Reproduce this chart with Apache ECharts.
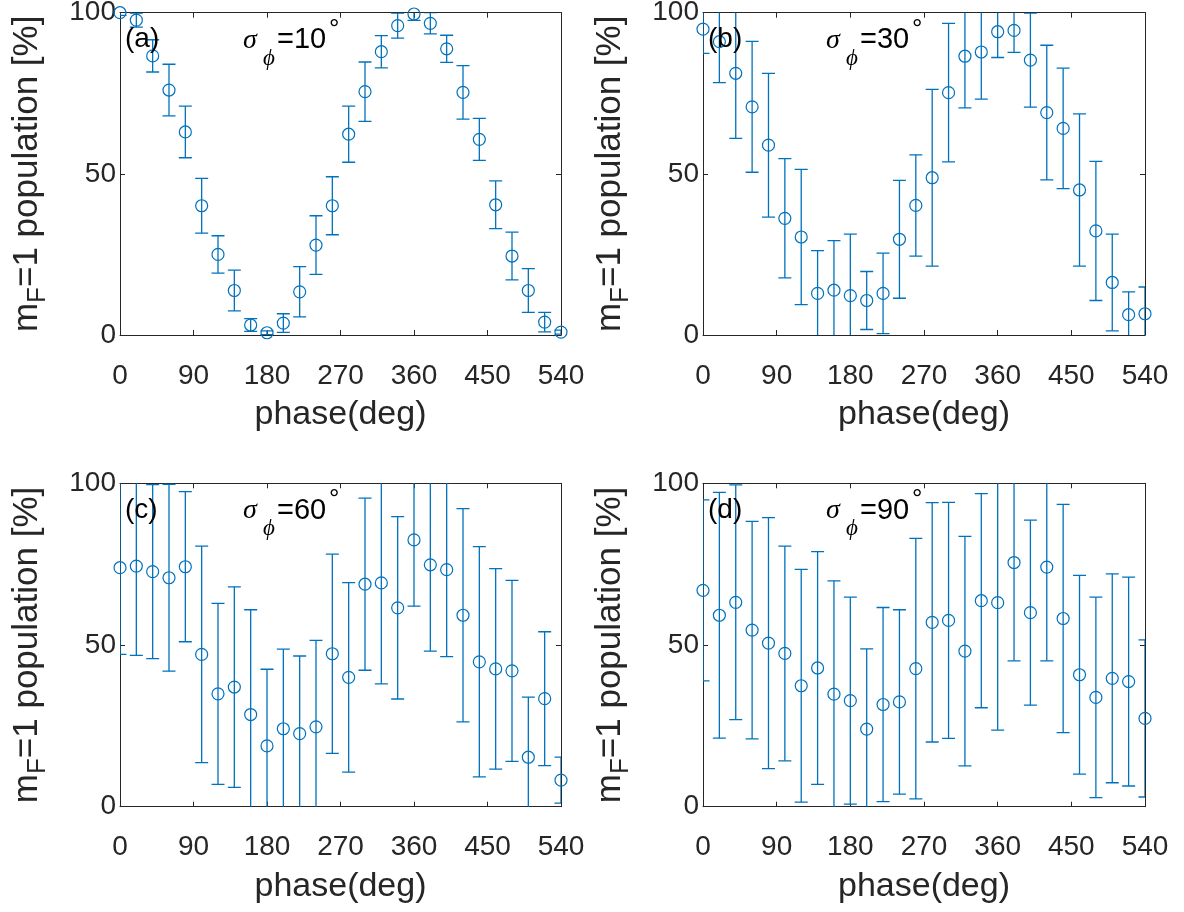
<!DOCTYPE html>
<html>
<head>
<meta charset="utf-8">
<script src="https://cdn.jsdelivr.net/npm/echarts@6/dist/echarts.min.js"></script>
<style>
html,body{margin:0;padding:0;background:#fff;}
#chart{width:1184px;height:912px;}
</style>
</head>
<body>
<div id="chart"></div>
<script>
// ---------------- data ----------------
const phases = [0,20,40,60,80,100,120,140,160,180,200,220,240,260,280,300,320,340,360,380,400,420,440,460,480,500,520,540];

const popA = [100,97.7,86.6,76,63,40.1,25,13.8,3.1,0.7,3.7,13.4,27.9,40.1,62.3,75.5,87.9,96,99.6,96.7,88.8,75.3,60.7,40.4,24.5,13.8,4,0.9];
const errA = [0.8,2.2,5,8,8,8.5,5.8,6.3,2,0.6,2.9,7.8,9.1,9,8.7,9.2,5,3.9,2,3.3,4.2,8.3,6.5,7.4,7.4,6.8,3,0.6];

const popB = [94.9,91,81.2,70.8,58.9,36.2,30.4,12.9,13.9,12.2,10.7,12.9,29.7,40.2,48.8,75.2,86.5,87.8,94.1,94.5,85.3,69,64.1,45,32.3,16.3,6.3,6.6];
const errB = [7.5,12.7,20.2,20.3,22.3,18.5,21,13.3,15.4,19.1,9,12.5,18.3,15.7,27.4,21.5,16,14.6,8,6.8,14.6,20.9,18.7,23.6,21.6,15,7.1,8.3];

const popC = [73.9,74.4,72.7,70.8,74.2,47.1,34.9,37,28.5,18.8,24.1,22.6,24.7,47.3,40,68.8,69.2,61.5,82.5,74.8,73.3,59.2,44.8,42.6,42,15.3,33.4,8.2];
const errC = [26.8,27.6,26.9,28.9,23.2,33.5,28,31,32.4,23.7,24.6,24,26.7,30.8,29.3,26.6,31.2,28.2,20.5,26.7,26.9,33,35.6,31,28,18.6,20.7,7.1];

const popD = [66.9,59.2,63.2,54.6,50.6,47.4,37.4,42.9,34.8,32.8,24,31.6,32.4,42.7,57,57.6,48.1,63.7,63.1,75.5,60,74.1,58.2,40.8,33.8,39.7,38.7,27.3];
const errD = [28,38,36.3,33.6,38.8,33.2,36,36,35,32,24.8,30,28.5,40.3,37,36.5,35.5,33.1,39.4,30.4,28.6,29,35.3,30.7,31,32.3,32.3,24.3];

const panelLetters = ['(a)','(b)','(c)','(d)'];
const sigmaValues = ['10','30','60','90'];
const xTickStep = 90;
const yTickStep = 50;
const xName = 'phase(deg)';
const yNameMain = 'm';
const yNameSub = 'F';
const yNameRest = '=1 population [%]';

// ---------------- layout / style ----------------
const pops = [popA, popB, popC, popD];
const errs = [errA, errB, errC, errD];
const BLUE = '#0072BD';
const AX = '#262626';
const FONT = '"Liberation Sans", Arial, Helvetica, sans-serif';
const SERIF = '"Liberation Serif", "Times New Roman", serif';

const gridPos = [
  {left:120, top:12.7, width:441, height:322.3},
  {left:703, top:12.7, width:442, height:322.3},
  {left:120, top:483.3, width:441, height:323.4},
  {left:703, top:483.3, width:442, height:323.4}
];

const grids = [], xAxes = [], yAxes = [], series = [], graphics = [];

function axisCommon() {
  return {
    axisLine:{show:true, onZero:false, lineStyle:{color:AX, width:1}},
    axisTick:{show:true, inside:true, length:5, lineStyle:{color:AX, width:1}},
    splitLine:{show:false},
    splitArea:{show:false}
  };
}

function renderErr(params, api) {
  const x = api.value(0), y = api.value(1), e = api.value(2);
  const t = api.coord([x, y + e]);
  const b = api.coord([x, y - e]);
  const hw = 6.5;
  const st = {stroke:BLUE, lineWidth:1.3, fill:null};
  return {
    type:'group',
    children:[
      {type:'line', shape:{x1:t[0], y1:t[1], x2:b[0], y2:b[1]}, style:st},
      {type:'line', shape:{x1:t[0]-hw, y1:t[1], x2:t[0]+hw, y2:t[1]}, style:st},
      {type:'line', shape:{x1:b[0]-hw, y1:b[1], x2:b[0]+hw, y2:b[1]}, style:st}
    ]
  };
}

gridPos.forEach((g, i) => {
  grids.push({left:g.left, top:g.top, width:g.width, height:g.height, containLabel:false, outerBoundsMode:'none', show:false});

  xAxes.push(Object.assign(axisCommon(), {
    gridIndex:i, type:'value', position:'bottom', min:0, max:540, interval:xTickStep,
    axisLabel:{show:true, margin:27, fontSize:28, color:AX, fontFamily:FONT, showMinLabel:true, showMaxLabel:true, hideOverlap:false},
    name:xName, nameLocation:'middle', nameGap:63,
    nameTextStyle:{fontSize:34, color:AX, fontFamily:FONT}
  }));
  xAxes.push(Object.assign(axisCommon(), {
    gridIndex:i, type:'value', position:'top', min:0, max:540, interval:xTickStep,
    axisLabel:{show:false}
  }));

  yAxes.push(Object.assign(axisCommon(), {
    gridIndex:i, type:'value', position:'left', min:0, max:100, interval:yTickStep,
    axisLabel:{show:true, margin:4, fontSize:28, color:AX, fontFamily:FONT, showMinLabel:true, showMaxLabel:true, hideOverlap:false},
    name:'{m|' + yNameMain + '}{s|' + yNameSub + '}{m|' + yNameRest + '}',
    nameLocation:'middle', nameRotate:90, nameGap:69,
    nameTextStyle:{
      fontSize:35, color:AX, fontFamily:FONT,
      rich:{
        m:{fontSize:35, color:AX, fontFamily:FONT, lineHeight:48, verticalAlign:'middle'},
        s:{fontSize:26, color:AX, fontFamily:FONT, lineHeight:20, verticalAlign:'bottom'}
      }
    }
  }));
  yAxes.push(Object.assign(axisCommon(), {
    gridIndex:i, type:'value', position:'right', min:0, max:100, interval:yTickStep,
    axisLabel:{show:false}
  }));

  const errData = phases.map((p, k) => [p, pops[i][k], errs[i][k]]);
  const ptData = phases.map((p, k) => [p, pops[i][k]]);

  series.push({
    type:'custom', xAxisIndex:2*i, yAxisIndex:2*i, clip:true, silent:true, z:2,
    renderItem:renderErr, encode:{x:0, y:1}, data:errData
  });
  series.push({
    type:'scatter', xAxisIndex:2*i, yAxisIndex:2*i, clip:false, silent:true, z:3,
    symbol:'circle', symbolSize:12,
    itemStyle:{color:'rgba(0,0,0,0)', borderColor:BLUE, borderWidth:1.2, opacity:1},
    data:ptData
  });

  // annotations
  graphics.push({type:'text', x:g.left+5, y:g.top+26.6, z:10,
    style:{text:panelLetters[i], font:'28px ' + FONT, fill:'#000', verticalAlign:'middle', align:'left'}});
  graphics.push({type:'text', x:g.left+123, y:g.top+27.5, z:10,
    style:{text:'σ', font:'italic 28px ' + SERIF, fill:'#000', verticalAlign:'middle', align:'left'}});
  graphics.push({type:'text', x:g.left+143, y:g.top+46, z:10,
    style:{text:'ϕ', font:'italic 23px ' + SERIF, fill:'#000', verticalAlign:'middle', align:'left'}});
  graphics.push({type:'text', x:g.left+157, y:g.top+27.3, z:10,
    style:{text:'=' + sigmaValues[i], font:'29px ' + FONT, fill:'#000', verticalAlign:'middle', align:'left'}});
  graphics.push({type:'text', x:g.left+209, y:g.top+17, z:10,
    style:{text:'°', font:'26px ' + FONT, fill:'#000', verticalAlign:'middle', align:'left'}});
});

const chart = echarts.init(document.getElementById('chart'), null, {renderer:'canvas'});
chart.setOption({
  backgroundColor:'#ffffff',
  animation:false,
  grid:grids,
  xAxis:xAxes,
  yAxis:yAxes,
  series:series,
  graphic:graphics
});
</script>
</body>
</html>
